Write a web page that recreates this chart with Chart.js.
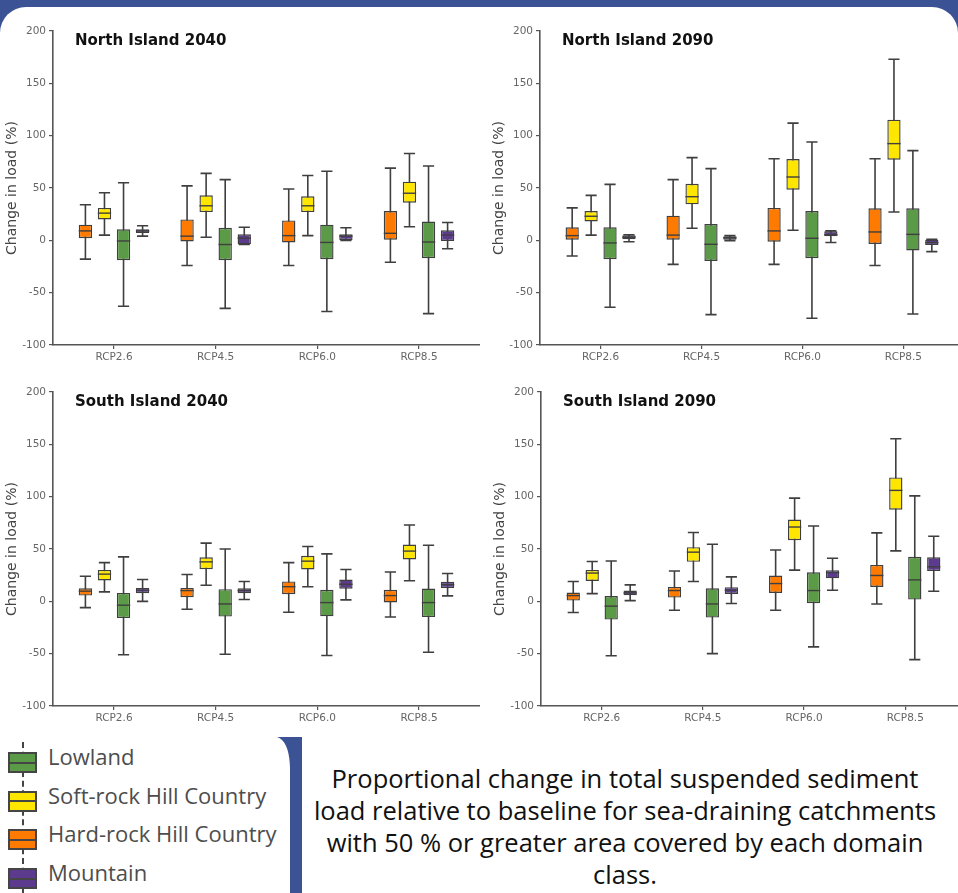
<!DOCTYPE html>
<html>
<head>
<meta charset="utf-8">
<script src="https://cdn.jsdelivr.net/npm/chart.js@4.4.0/dist/chart.umd.min.js"></script>
<style>
  html, body { margin: 0; padding: 0; }
  body { width: 958px; height: 893px; background: #3b5294; position: relative; overflow: hidden; }
  #sheet { position: absolute; left: 0; top: 7px; width: 958px; height: 900px; background: #fff; border-radius: 26px 26px 0 0; }
  canvas.panel { position: absolute; }
  #legend { position: absolute; left: 0; top: 0; }
  .leg-row { position: absolute; left: 8px; height: 21px; }
  .leg-box { position: absolute; left: 0; top: 0; width: 25px; height: 17px; border: 2px solid #454545; }
  .leg-box::after { content: ""; position: absolute; left: 0; right: 0; top: 7.5px; height: 2px; background: #454545; }
  .leg-text { position: absolute; left: 40px; top: -11px; font-family: "Open Sans", sans-serif; font-size: 22px; line-height: 30px; color: #4d4d4d; white-space: nowrap; }
  #whisk { position: absolute; left: 22px; top: 742px; height: 151px; border-left: 2px dashed #454545; }
  #caption { position: absolute; left: 300px; top: 762px; width: 650px; text-align: center; font-family: "Open Sans", sans-serif; font-size: 25.5px; line-height: 32px; color: #111; }
  #bracket { position: absolute; left: 270px; top: 730px; }
</style>
</head>
<body>
<div id="sheet"></div>
<canvas class="panel" id="ni2040"></canvas>
<canvas class="panel" id="ni2090"></canvas>
<canvas class="panel" id="si2040"></canvas>
<canvas class="panel" id="si2090"></canvas>
<div id="whisk"></div>
<div id="legend"></div>
<svg id="bracket" width="40" height="170"><path d="M 7 7 L 32 7 L 32 170 L 20 170 L 20 40 C 20 22 16 10 7 7 Z" fill="#3b5294"/></svg>
<div id="caption">Proportional change in total suspended sediment<br>load relative to baseline for sea-draining catchments<br>with 50 % or greater area covered by each domain<br>class.</div>
<script>
// scenario labels on the x axis
const rcpLabels = ['RCP2.6', 'RCP4.5', 'RCP6.0', 'RCP8.5'];

// one row per RCP: [min, q1, median, q3, max]  (% change in load)
const ni2040Hard = [[-18, 2, 9, 15, 34], [-24, -1, 4, 20, 52], [-24, -2, 4.5, 19, 49], [-21, 0.6, 6.7, 28, 69]];
const ni2040Soft = [[5, 20, 26, 31, 45.5], [3, 27, 33, 43, 64], [4.5, 27, 33, 42, 62], [13, 36, 45, 56, 83]];
const ni2040Low  = [[-63, -19, -0.6, 10.5, 55], [-65, -19, -4, 12, 58], [-68, -18, -2, 15, 66], [-70, -17, -1.6, 18, 71]];
const ni2040Mtn  = [[4, 7, 9, 10.5, 14], [-4, -3.8, 2, 5.7, 12.5], [0, 0.3, 4, 5.7, 12], [-8, -0.6, 5, 9.6, 17]];

const ni2090Hard = [[-15, 0.6, 4.5, 12.4, 31], [-23, 0, 5, 23.6, 58], [-23, -1.3, 9, 31, 78], [-24, -3.5, 8, 30.6, 78]];
const ni2090Soft = [[5, 18, 23, 28, 43], [11.5, 34.4, 41.7, 54, 79], [9.6, 48.4, 60.5, 77.7, 112], [27, 77, 92.4, 115.3, 173]];
const ni2090Low  = [[-64, -18, -2.5, 12.4, 53.5], [-71, -19.7, -3.8, 15.6, 68.5], [-74.5, -17, 2, 28, 94], [-70.4, -9.6, 5.7, 30.6, 85.7]];
const ni2090Mtn  = [[-1.3, 1, 3, 4.8, 5.4], [-0.3, 0.6, 2.5, 4, 4.5], [-2, 3.8, 5.4, 8.6, 9], [-10.8, -4.5, -2.2, 0.6, 1]];

const si2040Hard = [[-6, 5.5, 9.7, 12.5, 24], [-7.5, 4, 10.3, 12.8, 25.6], [-10.4, 6.8, 14, 19, 37], [-15, -1, 5.5, 11, 28]];
const si2040Soft = [[9, 20, 26, 30, 37], [15.4, 30.7, 37.7, 42, 55.6], [14, 30.4, 38.4, 43.5, 52.4], [19.6, 40, 48, 54.3, 73]];
const si2040Low  = [[-51, -16, -3.7, 8, 42.5], [-50.5, -14.6, -2.5, 11.6, 50], [-51.8, -14.3, -1.2, 11, 45.3], [-48.7, -15, -1.2, 12.2, 53.6]];
const si2040Mtn  = [[0, 7.7, 10.6, 12.8, 20.8], [1.7, 7.7, 10.3, 12.5, 19], [1.4, 12, 16.3, 20.8, 30.4], [5.2, 12.8, 16, 18.6, 26.6]];

const si2090Hard = [[-10.7, 0.7, 5.5, 8.4, 18.9], [-8.5, 3.6, 10.3, 13.8, 29], [-8.5, 8, 17, 24.7, 49], [-2.5, 13.8, 24.7, 34.8, 65.4]];
const si2090Soft = [[7.4, 19.5, 27, 30, 38], [19, 37.7, 47, 51.7, 65.8], [29.8, 58.4, 71, 78.2, 98.6], [48.2, 87.5, 106, 118.4, 155.4]];
const si2090Low  = [[-52, -17.4, -4.6, 5, 38.6], [-50, -15.5, -2.5, 12.5, 54.6], [-43.5, -1.8, 10.3, 27.8, 72], [-55.7, 1.7, 20.5, 42.5, 100.8]];
const si2090Mtn  = [[0.7, 5.8, 8, 10.3, 15.7], [-2, 7, 10.6, 13.5, 23.4], [10.6, 22, 27.5, 29.8, 41.2], [9.7, 29, 33, 42, 62.2]];

// domain classes in the order they sit inside each group
const classNames  = ['Hard-rock Hill Country', 'Soft-rock Hill Country', 'Lowland', 'Mountain'];
const classColors = ['#ff7a00', '#ffe600', '#5b9a46', '#5c3b8f'];
// legend order
const legendOrder = [2, 1, 0, 3];

const lineColor = '#3f3f3f';

Chart.defaults.font.family = 'DejaVu Sans';

// whiskers behind the boxes, medians on top
const boxWhiskers = {
  id: 'boxWhiskers',
  beforeDatasetsDraw(chart) {
    const ctx = chart.ctx;
    const y = chart.scales.y;
    chart.data.datasets.forEach((ds, di) => {
      chart.getDatasetMeta(di).data.forEach((bar, i) => {
        const s = ds.stats[i];
        const half = bar.width * 0.42;
        const top = y.getPixelForValue(s[4]);
        const bottom = y.getPixelForValue(s[0]);
        ctx.save();
        ctx.strokeStyle = lineColor;
        ctx.lineWidth = 1.6;
        ctx.beginPath();
        ctx.moveTo(bar.x, top); ctx.lineTo(bar.x, bottom);
        ctx.moveTo(bar.x - half, top); ctx.lineTo(bar.x + half, top);
        ctx.moveTo(bar.x - half, bottom); ctx.lineTo(bar.x + half, bottom);
        ctx.stroke();
        ctx.restore();
      });
    });
  },
  afterDatasetsDraw(chart) {
    const ctx = chart.ctx;
    const y = chart.scales.y;
    chart.data.datasets.forEach((ds, di) => {
      chart.getDatasetMeta(di).data.forEach((bar, i) => {
        const m = y.getPixelForValue(ds.stats[i][2]);
        ctx.save();
        ctx.strokeStyle = lineColor;
        ctx.lineWidth = 1.4;
        ctx.beginPath();
        ctx.moveTo(bar.x - bar.width / 2, m); ctx.lineTo(bar.x + bar.width / 2, m);
        ctx.stroke();
        ctx.restore();
      });
    });
  }
};

// panel title inside the plot area, top-left
const panelTitle = {
  id: 'panelTitle',
  afterDraw(chart, args, opts) {
    const ctx = chart.ctx;
    ctx.save();
    ctx.font = 'bold 15px "DejaVu Sans"';
    ctx.fillStyle = '#111';
    ctx.textBaseline = 'middle';
    ctx.fillText(opts.text, chart.chartArea.left + 22, chart.chartArea.top + 10);
    ctx.restore();
  }
};

function makePanel(id, title, series, left, top, width, axisWidth) {
  const canvas = document.getElementById(id);
  canvas.width = width;
  canvas.height = 365;
  canvas.style.left = left + 'px';
  canvas.style.top = top + 'px';

  const datasets = series.map((stats, k) => ({
    label: classNames[k],
    stats: stats,
    data: stats.map((s, i) => ({ x: i, y: [s[1], s[3]] })),
    backgroundColor: classColors[k],
    borderColor: lineColor,
    borderWidth: 1.4,
    borderSkipped: false,
    categoryPercentage: 0.75,
    barPercentage: 0.7
  }));

  new Chart(canvas, {
    type: 'bar',
    data: { datasets: datasets },
    options: {
      responsive: false,
      animation: false,
      layout: { padding: { top: 31, left: 0, right: 0, bottom: 0 } },
      plugins: {
        legend: { display: false },
        tooltip: { enabled: false },
        panelTitle: { text: title }
      },
      scales: {
        x: {
          type: 'linear',
          min: -0.6,
          max: 3.6,
          offset: false,
          grid: { offset: false, drawOnChartArea: false, drawTicks: true, tickLength: 4, color: '#555', lineWidth: 1.2 },
          border: { display: true, color: '#555', width: 1.6 },
          ticks: {
            stepSize: 1,
            includeBounds: false,
            autoSkip: false,
            maxRotation: 0,
            padding: 2,
            color: '#666',
            font: { size: 10.5 },
            callback: v => rcpLabels[v]
          },
          afterFit: s => { s.height = 20; }
        },
        y: {
          min: -100,
          max: 200,
          grid: { drawOnChartArea: false, drawTicks: true, tickLength: 4, color: '#555', lineWidth: 1.2 },
          border: { display: true, color: '#555', width: 1.6 },
          ticks: { stepSize: 50, padding: 3, color: '#666', font: { size: 10.5 } },
          title: {
            display: true,
            text: 'Change in load (%)',
            color: '#444',
            font: { size: 14 },
            padding: { top: axisWidth - 41 - 8.4, bottom: 0 }
          },
          afterFit: s => { s.width = axisWidth; }
        }
      }
    },
    plugins: [boxWhiskers, panelTitle]
  });
}

makePanel('ni2040', 'North Island 2040', [ni2040Hard, ni2040Soft, ni2040Low, ni2040Mtn], 0, 0, 480, 53);
makePanel('ni2090', 'North Island 2090', [ni2090Hard, ni2090Soft, ni2090Low, ni2090Mtn], 480, 0, 484, 60);
makePanel('si2040', 'South Island 2040', [si2040Hard, si2040Soft, si2040Low, si2040Mtn], 0, 361, 480, 53);
makePanel('si2090', 'South Island 2090', [si2090Hard, si2090Soft, si2090Low, si2090Mtn], 480, 361, 486, 61);

// legend
const legend = document.getElementById('legend');
legendOrder.forEach((k, row) => {
  const el = document.createElement('div');
  el.className = 'leg-row';
  el.style.top = (752 + row * 38.7) + 'px';
  el.innerHTML = '<div class="leg-box" style="background:' + classColors[k] + '"></div>' +
                 '<div class="leg-text">' + classNames[k] + '</div>';
  legend.appendChild(el);
});
</script>
</body>
</html>
